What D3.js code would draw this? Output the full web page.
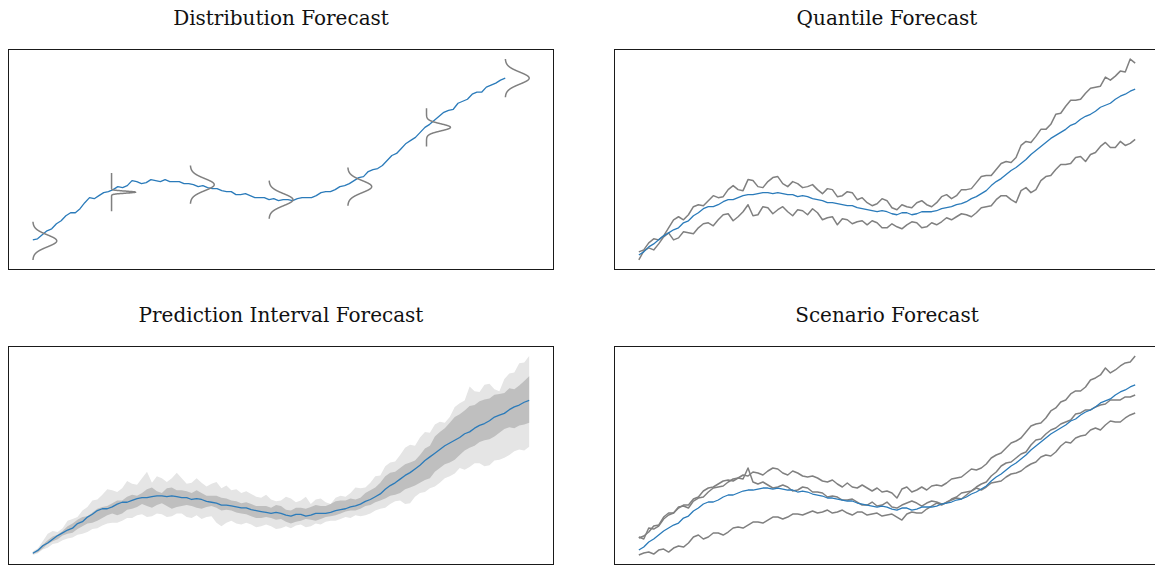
<!DOCTYPE html>
<html>
<head>
<meta charset="utf-8">
<script src="https://cdn.jsdelivr.net/npm/d3@7"></script>
<style>
  body { margin: 0; background: #fff; }
  .title { font-family: "DejaVu Serif", serif; font-size: 20px; fill: #111; }
</style>
</head>
<body>
<div id="chart"></div>
<script>
// time axis, one value every 1.5 steps
var steps = d3.range(0, 150.1, 1.5);

// Distribution forecast: observed path and forecast distributions
var observed = [3.0, 3.1, 3.5, 3.9, 4.1, 4.6, 4.9, 5.4, 5.7, 5.7, 6.1, 6.7, 7.2, 7.1, 7.4, 7.7, 7.8, 8.0, 8.3, 8.2,
    8.4, 8.9, 8.8, 8.6, 8.7, 9.0, 8.9, 8.8, 9.0, 8.8, 8.8, 8.8, 8.6, 8.6, 8.5, 8.3, 8.4, 8.2, 8.1, 8.1,
    7.9, 7.8, 7.8, 7.5, 7.5, 7.6, 7.4, 7.2, 7.2, 7.2, 7.0, 7.1, 6.9, 7.0, 7.0, 6.9, 7.1, 7.2, 7.2, 7.2,
    7.4, 7.7, 7.8, 7.8, 8.0, 8.3, 8.4, 8.6, 8.9, 9.2, 9.3, 9.8, 10.0, 10.1, 10.4, 10.9, 11.4, 11.6, 12.1, 12.6,
    12.9, 13.2, 13.7, 14.2, 14.5, 14.9, 15.3, 15.7, 15.9, 16.0, 16.6, 16.8, 17.0, 17.5, 17.7, 17.7, 18.2, 18.4, 18.6, 18.9,
    19.1];
var distSteps = [0, 25, 50, 75, 100, 125, 150];
var distMeans = [2.9, 7.75, 8.5, 7.0, 8.3, 14.2, 19.1];
var distSigmas = [0.6, 0.1, 0.6, 0.6, 0.6, 0.35, 0.6];
var distHalfRange = 1.9;   // value range drawn around each mean
var distPeak = 7.6;        // peak of each density, in time steps

// median forecast (blue) used by the other three panels
var median = [1.5, 1.8, 2.3, 2.6, 3.0, 3.4, 3.7, 4.0, 4.2, 4.7, 4.9, 5.4, 5.7, 6.1, 6.3, 6.3, 6.5, 6.8, 7.0, 7.0,
    7.2, 7.4, 7.5, 7.5, 7.6, 7.7, 7.7, 7.6, 7.7, 7.6, 7.5, 7.5, 7.3, 7.4, 7.3, 7.1, 7.0, 6.9, 6.7, 6.7,
    6.6, 6.5, 6.4, 6.4, 6.2, 6.1, 6.0, 5.9, 5.8, 5.9, 5.8, 5.6, 5.5, 5.7, 5.7, 5.5, 5.6, 5.8, 5.8, 5.8,
    5.9, 6.1, 6.2, 6.3, 6.5, 6.6, 6.8, 7.1, 7.3, 7.6, 7.9, 8.4, 8.8, 9.1, 9.5, 9.9, 10.2, 10.6, 11.0, 11.5,
    11.9, 12.3, 12.7, 13.1, 13.4, 13.7, 14.0, 14.4, 14.6, 15.0, 15.3, 15.5, 15.8, 16.2, 16.4, 16.6, 17.0, 17.3, 17.5, 17.8,
    18.0];

// Quantile forecast
var q90 = [1.8, 2.0, 2.7, 3.1, 3.0, 3.4, 4.2, 5.0, 5.3, 5.0, 5.5, 6.3, 6.5, 6.4, 6.9, 7.4, 7.2, 7.3, 8.0, 8.4,
    8.0, 7.9, 9.0, 8.9, 8.3, 8.2, 8.8, 9.2, 9.3, 8.6, 8.3, 8.8, 8.6, 8.2, 8.3, 8.5, 8.0, 7.6, 8.1, 8.0,
    7.3, 7.4, 7.8, 7.7, 7.0, 7.2, 6.7, 6.4, 6.6, 7.1, 6.9, 6.2, 6.0, 6.5, 6.3, 6.2, 6.7, 6.9, 6.5, 6.3,
    6.7, 7.3, 7.5, 7.1, 7.4, 8.0, 8.0, 8.1, 8.7, 9.3, 9.4, 9.4, 10.0, 10.6, 10.8, 10.7, 11.2, 12.4, 12.8, 12.7,
    13.3, 14.0, 14.0, 14.5, 15.5, 15.6, 16.3, 16.9, 16.9, 17.0, 17.6, 18.1, 18.2, 18.3, 19.2, 18.9, 19.3, 19.8, 19.7, 21.0,
    20.6];
var q10 = [1.0, 1.9, 2.2, 2.0, 2.6, 3.3, 3.7, 3.0, 3.2, 3.8, 3.7, 3.6, 4.2, 4.6, 4.7, 4.4, 5.0, 5.5, 5.6, 4.9,
    5.3, 5.8, 6.5, 5.4, 5.5, 6.3, 6.2, 5.6, 6.0, 6.3, 5.8, 5.4, 6.0, 5.9, 5.5, 6.1, 5.7, 5.0, 5.2, 5.3,
    4.5, 5.1, 5.0, 4.6, 4.8, 4.9, 4.5, 4.9, 4.7, 4.2, 4.2, 4.6, 4.3, 4.1, 4.5, 4.8, 4.7, 4.2, 4.3, 4.7,
    4.5, 4.8, 5.2, 5.0, 5.3, 5.6, 5.5, 5.3, 5.7, 6.2, 6.3, 6.4, 7.0, 7.4, 7.4, 7.0, 6.7, 7.9, 8.2, 7.7,
    8.0, 8.9, 9.3, 9.4, 10.0, 10.5, 10.5, 10.6, 11.2, 11.3, 10.8, 11.5, 11.7, 12.3, 12.7, 12.2, 12.2, 12.8, 12.4, 12.6,
    13.0];

// Prediction interval forecast
var pi95Hi = [1.7, 2.0, 2.8, 3.6, 3.9, 3.8, 4.2, 5.0, 5.2, 5.4, 6.1, 6.5, 7.2, 7.3, 7.8, 8.4, 8.3, 8.1, 8.5, 9.3,
    9.0, 8.9, 9.6, 10.3, 9.1, 9.8, 9.6, 9.2, 9.6, 10.2, 9.6, 9.0, 9.1, 9.6, 9.1, 8.7, 9.0, 9.2, 8.5, 8.8,
    8.3, 8.4, 8.0, 8.2, 7.9, 7.6, 7.5, 7.8, 7.3, 7.1, 7.2, 7.6, 7.4, 7.0, 7.2, 7.6, 6.8, 7.3, 7.4, 7.0,
    6.8, 7.5, 7.7, 7.6, 8.0, 8.6, 8.5, 8.6, 9.1, 9.8, 9.9, 10.9, 11.3, 11.4, 12.1, 12.9, 13.2, 13.1, 14.0, 14.6,
    14.5, 15.4, 15.7, 15.6, 16.2, 17.3, 17.7, 18.0, 19.5, 19.0, 18.9, 19.7, 19.8, 19.2, 19.0, 20.3, 20.9, 21.0, 22.0, 22.1,
    22.8];
var pi95Lo = [1.3, 1.5, 1.9, 2.1, 2.5, 2.6, 2.9, 3.1, 3.2, 3.5, 3.6, 3.8, 4.1, 4.2, 4.5, 4.7, 4.8, 4.8, 5.0, 5.3,
    5.3, 5.6, 5.7, 5.4, 5.5, 5.8, 5.7, 5.4, 5.5, 5.8, 5.8, 5.4, 5.3, 5.6, 5.2, 5.4, 5.5, 4.8, 4.4, 4.8,
    5.0, 4.7, 4.6, 4.8, 4.6, 4.3, 4.4, 4.6, 4.4, 4.1, 4.2, 4.4, 4.2, 4.5, 4.6, 4.3, 4.4, 4.7, 4.6, 4.9,
    5.0, 5.0, 5.2, 5.4, 5.3, 5.6, 5.5, 5.6, 5.8, 6.1, 6.3, 6.4, 6.8, 7.1, 7.2, 6.8, 6.9, 7.6, 8.0, 8.1,
    8.5, 8.7, 9.1, 9.6, 9.8, 10.1, 10.7, 10.5, 10.8, 11.2, 11.2, 10.9, 11.0, 11.5, 11.6, 11.8, 12.1, 12.5, 12.7, 12.6,
    13.0];
var pi50Hi = [1.5, 1.9, 2.4, 2.9, 3.3, 3.5, 3.9, 4.4, 4.7, 5.1, 5.4, 5.5, 5.9, 6.3, 6.5, 6.6, 6.9, 7.2, 7.2, 7.6,
    7.8, 7.7, 8.0, 8.4, 8.6, 8.2, 8.0, 8.5, 8.6, 8.3, 8.3, 8.2, 8.0, 8.3, 8.0, 7.7, 7.7, 7.7, 7.5, 7.4,
    7.2, 7.1, 6.9, 7.0, 6.8, 6.6, 6.6, 6.6, 6.4, 6.7, 6.6, 6.2, 6.1, 6.4, 6.4, 6.3, 6.5, 6.7, 6.6, 6.6,
    6.8, 7.1, 7.2, 7.2, 7.4, 7.3, 7.5, 8.0, 8.3, 8.6, 9.1, 9.8, 10.2, 10.3, 10.7, 11.1, 11.3, 11.5, 12.1, 12.8,
    13.1, 14.1, 14.6, 15.0, 15.6, 16.2, 16.5, 16.9, 17.4, 17.5, 17.9, 18.1, 18.2, 18.6, 18.7, 18.8, 19.3, 19.2, 19.6, 20.1,
    20.6];
var pi50Lo = [1.4, 1.6, 2.0, 2.5, 2.8, 3.0, 3.4, 3.6, 3.7, 4.1, 4.4, 4.7, 4.8, 5.0, 5.3, 5.6, 5.8, 5.6, 5.8, 6.2,
    6.3, 6.5, 6.8, 6.6, 6.4, 6.7, 6.9, 6.6, 6.3, 6.5, 6.6, 6.7, 6.6, 6.4, 6.3, 6.5, 6.6, 6.4, 6.1, 6.2,
    6.1, 5.9, 5.8, 5.7, 5.5, 5.3, 5.3, 5.4, 5.3, 5.1, 5.2, 4.9, 4.7, 4.9, 5.0, 5.2, 5.1, 5.0, 5.2, 5.4,
    5.5, 5.6, 5.8, 6.0, 6.1, 6.1, 6.3, 6.6, 6.7, 7.0, 7.2, 7.4, 7.7, 7.8, 8.0, 8.4, 8.6, 8.8, 9.1, 9.4,
    9.6, 10.3, 10.7, 11.1, 11.3, 11.6, 12.1, 12.6, 12.9, 13.1, 13.5, 13.7, 13.8, 14.1, 14.5, 14.9, 15.1, 15.0, 15.3, 15.4,
    15.6];

// Scenario forecast
var scenarioA = [2.8, 2.6, 3.7, 3.6, 3.9, 4.6, 5.0, 5.2, 5.7, 6.0, 6.0, 6.6, 6.8, 7.4, 7.7, 7.8, 8.1, 8.4, 8.5, 8.4,
    8.7, 9.0, 8.9, 9.3, 9.2, 9.0, 9.4, 9.7, 9.6, 9.2, 9.0, 9.4, 9.2, 8.9, 8.8, 8.9, 8.7, 8.4, 8.3, 8.5,
    8.1, 7.8, 8.2, 7.8, 7.7, 8.0, 7.7, 7.4, 7.7, 7.3, 7.4, 7.2, 6.7, 7.6, 7.8, 7.3, 7.5, 7.8, 7.5, 7.9,
    8.0, 7.9, 8.2, 8.6, 8.7, 8.8, 9.2, 9.6, 9.5, 9.7, 10.1, 10.7, 11.0, 11.2, 11.7, 12.2, 12.4, 12.7, 13.3, 13.9,
    14.1, 14.2, 14.7, 15.4, 15.7, 16.3, 16.5, 17.1, 17.4, 17.4, 17.8, 18.5, 18.7, 19.0, 19.7, 19.2, 19.5, 19.9, 20.2, 20.3,
    20.9];
var scenarioB = [2.7, 2.9, 3.3, 3.9, 4.0, 4.8, 5.2, 5.2, 5.8, 5.9, 5.7, 6.4, 6.7, 6.8, 7.3, 7.7, 7.8, 7.9, 8.3, 8.6,
    8.7, 8.6, 9.7, 8.3, 8.1, 8.3, 8.0, 7.7, 7.8, 8.0, 7.8, 7.4, 7.5, 7.8, 7.7, 7.3, 7.3, 7.2, 6.8, 6.9,
    6.8, 6.5, 6.5, 6.6, 6.3, 6.0, 6.0, 6.3, 5.9, 6.0, 6.3, 5.8, 5.7, 6.0, 6.2, 6.4, 6.2, 5.9, 6.2, 6.4,
    6.3, 6.1, 6.2, 6.6, 6.8, 7.2, 7.3, 7.4, 7.8, 8.1, 8.3, 8.9, 9.3, 9.9, 10.2, 10.3, 10.7, 11.1, 11.3, 12.0,
    12.5, 12.6, 13.1, 13.5, 13.7, 14.1, 14.3, 14.5, 15.1, 15.2, 15.5, 15.5, 15.8, 16.0, 16.1, 16.5, 16.5, 16.5, 16.8, 16.8,
    17.0];
var scenarioC = [1.0, 1.2, 1.3, 1.1, 1.5, 1.6, 1.3, 1.7, 1.9, 1.8, 2.2, 2.8, 3.0, 2.6, 2.8, 3.2, 3.2, 3.0, 3.3, 3.7,
    3.8, 3.7, 4.0, 4.3, 4.3, 4.2, 4.5, 4.8, 4.8, 4.6, 4.8, 5.1, 5.1, 5.0, 5.2, 5.4, 5.2, 5.3, 5.5, 5.2,
    5.3, 5.5, 5.2, 5.0, 5.3, 5.3, 5.0, 5.1, 5.2, 4.9, 5.0, 5.1, 4.8, 4.5, 5.1, 5.3, 5.2, 5.2, 5.6, 5.9,
    6.2, 6.0, 6.3, 6.5, 6.7, 6.6, 7.0, 7.4, 7.7, 7.5, 7.8, 8.2, 8.3, 8.4, 8.8, 9.1, 9.2, 9.4, 9.8, 10.1,
    10.3, 10.8, 11.0, 10.9, 11.3, 11.9, 12.3, 12.2, 12.7, 12.9, 13.0, 13.5, 13.7, 13.5, 14.0, 14.4, 14.3, 14.3, 14.7, 15.0,
    15.2];

var blue = "#2b7bba", grey = "#808080";

var svg = d3.select("#chart").append("svg")
    .attr("width", 1155)
    .attr("height", 567);

// pad an extent by 5% on each side
function padded(ext) {
    var p = (ext[1] - ext[0]) * 0.05;
    return [ext[0] - p, ext[1] + p];
}

function panel(box, title, xExt, yExt) {
    var g = svg.append("g").attr("transform", "translate(" + box.x + "," + box.y + ")");
    var x = d3.scaleLinear().domain(padded(xExt)).range([0, box.w]);
    var y = d3.scaleLinear().domain(padded(yExt)).range([box.h, 0]);
    svg.append("text")
        .attr("class", "title")
        .attr("x", box.x + box.w / 2)
        .attr("y", box.y - 24)
        .attr("text-anchor", "middle")
        .text(title);
    return {g: g, x: x, y: y, box: box};
}

function frame(p) {
    p.g.append("rect")
        .attr("x", 0.5).attr("y", 0.5)
        .attr("width", p.box.w - 1).attr("height", p.box.h - 1)
        .attr("fill", "none")
        .attr("stroke", "#1a1a1a")
        .attr("stroke-width", 1);
}

function drawLine(p, values, color, width) {
    var line = d3.line()
        .x(function (d, i) { return p.x(steps[i]); })
        .y(function (d) { return p.y(d); });
    p.g.append("path")
        .datum(values)
        .attr("d", line)
        .attr("fill", "none")
        .attr("stroke", color)
        .attr("stroke-width", width)
        .attr("stroke-linejoin", "round");
}

function drawBand(p, lo, hi, color) {
    var area = d3.area()
        .x(function (d, i) { return p.x(steps[i]); })
        .y0(function (d, i) { return p.y(lo[i]); })
        .y1(function (d, i) { return p.y(hi[i]); });
    p.g.append("path")
        .datum(lo)
        .attr("d", area)
        .attr("fill", color)
        .attr("stroke", "none");
}

var W = 546;

// --- Distribution Forecast
var lows = distMeans.map(function (m) { return m - distHalfRange; });
var highs = distMeans.map(function (m) { return m + distHalfRange; });
var p1 = panel({x: 8, y: 49, w: W, h: 221}, "Distribution Forecast",
    [0, d3.max(distSteps) + distPeak],
    [d3.min(lows.concat(observed)), d3.max(highs.concat(observed))]);
drawLine(p1, observed, blue, 1.3);
distSteps.forEach(function (s, k) {
    var mu = distMeans[k], sd = distSigmas[k];
    var ys = d3.range(0, 401).map(function (j) { return mu - distHalfRange + j * distHalfRange * 2 / 400; });
    var curve = d3.line()
        .x(function (v) { return p1.x(s + distPeak * Math.exp(-0.5 * Math.pow((v - mu) / sd, 2))); })
        .y(function (v) { return p1.y(v); });
    p1.g.append("path")
        .datum(ys)
        .attr("d", curve)
        .attr("fill", "none")
        .attr("stroke", grey)
        .attr("stroke-width", 1.5);
});
frame(p1);

// --- Quantile Forecast
var p2 = panel({x: 614, y: 49, w: W, h: 221}, "Quantile Forecast",
    d3.extent(steps), d3.extent(q10.concat(q90, median)));
drawLine(p2, q90, grey, 1.5);
drawLine(p2, q10, grey, 1.5);
drawLine(p2, median, blue, 1.3);
frame(p2);

// --- Prediction Interval Forecast
var p3 = panel({x: 8, y: 346, w: W, h: 219}, "Prediction Interval Forecast",
    d3.extent(steps), d3.extent(pi95Lo.concat(pi95Hi, median)));
drawBand(p3, pi95Lo, pi95Hi, "#e5e5e5");
drawBand(p3, pi50Lo, pi50Hi, "#bfbfbf");
drawLine(p3, median, blue, 1.3);
frame(p3);

// --- Scenario Forecast
var p4 = panel({x: 614, y: 346, w: W, h: 219}, "Scenario Forecast",
    d3.extent(steps), d3.extent(scenarioA.concat(scenarioB, scenarioC, median)));
drawLine(p4, scenarioA, grey, 1.5);
drawLine(p4, scenarioB, grey, 1.5);
drawLine(p4, scenarioC, grey, 1.5);
drawLine(p4, median, blue, 1.3);
frame(p4);
</script>
</body>
</html>
